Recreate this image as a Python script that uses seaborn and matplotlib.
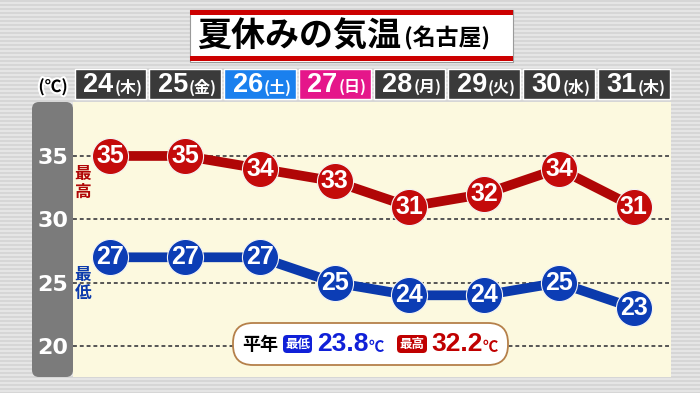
import numpy as np
import pandas as pd
import matplotlib
matplotlib.use("Agg")
import matplotlib.pyplot as plt
from matplotlib.patches import FancyBboxPatch, Rectangle
import matplotlib.patheffects as pe
import seaborn as sns

# ---- data ----
days = ["24", "25", "26", "27", "28", "29", "30", "31"]
weekdays = ["(木)", "(金)", "(土)", "(日)", "(月)", "(火)", "(水)", "(木)"]
high = [35, 35, 34, 33, 31, 32, 34, 31]
low = [27, 27, 27, 25, 24, 24, 25, 23]
yticks = [20, 25, 30, 35]
normal_low = "23.8"
normal_high = "32.2"
title_main = "夏休みの気温"
title_sub = "(名古屋)"

sns.set_theme(style="white")
JP = ["Noto Sans CJK JP", "DejaVu Sans"]
NUM = ["Liberation Sans", "DejaVu Sans"]
WIDE = ["DejaVu Sans"]
plt.rcParams["font.family"] = JP

W, H = 700, 393
fig = plt.figure(figsize=(7, 3.93), dpi=100)

# striped background
stripes = np.ones((H, W, 3))
rows = np.arange(H)
stripes[:] = np.where((rows % 4 < 2)[:, None, None], 0.84, 0.90)
fig.figimage(stripes, xo=0, yo=0, zorder=-2)

T = fig.dpi_scale_trans  # inches; 1 in = 100 px


def P(px, py):
    """pixel (from top-left) -> inches"""
    return px / 100.0, (H - py) / 100.0


# axes
L, R, TOP, BOT = 73, 671, 102, 377
ax = fig.add_axes([L / W, (H - BOT) / H, (R - L) / W, (BOT - TOP) / H])
ax.set_facecolor("#fcf9df")
for s in ax.spines.values():
    s.set_visible(False)

# gray y-axis panel
x0, y0 = P(32, BOT)
x1, y1 = P(73, TOP)
fig.add_artist(FancyBboxPatch((x0, y0), x1 - x0, y1 - y0,
                              boxstyle="round,pad=0,rounding_size=0.07",
                              transform=T, facecolor="#7b7b7b", edgecolor="none",
                              zorder=-1))

df = pd.DataFrame({"day": np.arange(len(days)), "high": high, "low": low})

for col, lc, mc in [("high", "#b00606", "#c40b0b"), ("low", "#0b3aac", "#0c3db5")]:
    sns.lineplot(data=df, x="day", y=col, ax=ax, color=lc, linewidth=7,
                 marker="o", markersize=26, markerfacecolor=mc,
                 markeredgecolor="#f4f4f4", markeredgewidth=0.8, zorder=3)
    for i, v in enumerate(df[col]):
        ax.text(i, v, str(v), ha="center", va="center", color="white",
                fontsize=18, fontweight="bold", family=NUM, zorder=4)

ax.set_xlim(-0.5, len(days) - 0.5)
ax.set_ylim(17.55, 39.26)
ax.set_yticks(yticks)
ax.set_yticklabels([str(t) for t in yticks], fontweight="bold", family=WIDE)
ax.tick_params(axis="y", length=0, pad=3.5, labelcolor="white", labelsize=16)
ax.set_xticks([])
ax.set_xlabel("")
ax.set_ylabel("")
ax.grid(axis="y", color="#555555", linestyle=(0, (2, 1.5)), linewidth=1.4)
ax.set_axisbelow(True)

# header boxes
colw = (R - L) / len(days)
hcolors = ["#3a3a3a", "#3a3a3a", "#1a80ee", "#e5168a", "#3a3a3a", "#3a3a3a", "#3a3a3a", "#3a3a3a"]
for i, (d, wd) in enumerate(zip(days, weekdays)):
    bx0 = L + i * colw + 1.5
    bx1 = L + (i + 1) * colw - 1.5
    a, b = P(bx0, 99)
    c, e = P(bx1, 69)
    fig.add_artist(Rectangle((a, b), c - a, e - b, transform=T,
                             facecolor=hcolors[i], edgecolor="white", linewidth=1.0, zorder=2))
    cx = L + (i + 0.5) * colw
    tx, ty = P(cx + 3, 85)
    fig.text(tx, ty, d, transform=T, ha="right", va="center", color="white",
             fontsize=19.5, fontweight="bold", family=NUM, zorder=3)
    tx, ty = P(cx + 4, 87)
    fig.text(tx, ty, wd, transform=T, ha="left", va="center", color="white",
             fontsize=11.5, fontweight="bold", family=JP, zorder=3)

# (℃) label
tx, ty = P(53, 87)
fig.text(tx, ty, "(℃)", transform=T, ha="center", va="center", color="black",
         fontsize=12, fontweight="bold", family=JP, zorder=3,
         path_effects=[pe.withStroke(linewidth=3, foreground="white")])

# series labels
tx, ty = P(83, 183)
fig.text(tx, ty, "最\n高", transform=T, ha="center", va="center", color="#b00606",
         fontsize=12, fontweight="bold", family=JP, linespacing=0.95, zorder=3)
tx, ty = P(83, 284)
fig.text(tx, ty, "最\n低", transform=T, ha="center", va="center", color="#0b3aac",
         fontsize=12, fontweight="bold", family=JP, linespacing=0.95, zorder=3)

# title box
a, b = P(190, 62)
c, e = P(513, 10)
fig.add_artist(Rectangle((a, b), c - a, e - b, transform=T, facecolor="white",
                         edgecolor="#9a9a9a", linewidth=0.8, zorder=2))
for yy in (10, 56):
    a, b = P(190, yy + 5)
    c, e = P(513, yy)
    fig.add_artist(Rectangle((a, b), c - a, e - b, transform=T, facecolor="#cc0000",
                             edgecolor="none", zorder=2.5))
tx, ty = P(401, 36)
fig.text(tx, ty, title_main, transform=T, ha="right", va="center", color="black",
         fontsize=24.5, fontweight="bold", family=JP, zorder=3)
tx, ty = P(404, 38)
fig.text(tx, ty, title_sub, transform=T, ha="left", va="center", color="black",
         fontsize=16.5, fontweight="bold", family=JP, zorder=3)

# normal-values box
a, b = P(233, 365)
c, e = P(508, 323)
fig.add_artist(FancyBboxPatch((a, b), c - a, e - b, transform=T,
                              boxstyle="round,pad=0,rounding_size=0.2",
                              facecolor="white", edgecolor="#b5804a", linewidth=1.3, zorder=2))
tx, ty = P(260, 345)
fig.text(tx, ty, "平年", transform=T, ha="center", va="center", color="black",
         fontsize=13, fontweight="bold", family=JP, zorder=3)
for (bx0, bx1, col, lab, val, vx) in [(283, 312, "#1020d8", "最低", normal_low, 317),
                                       (397, 427, "#c00000", "最高", normal_high, 431)]:
    a, b = P(bx0, 353)
    c, e = P(bx1, 335)
    fig.add_artist(FancyBboxPatch((a, b), c - a, e - b, transform=T,
                                  boxstyle="round,pad=0,rounding_size=0.04",
                                  facecolor=col, edgecolor="none", zorder=3))
    tx, ty = P((bx0 + bx1) / 2, 344)
    fig.text(tx, ty, lab, transform=T, ha="center", va="center", color="white",
             fontsize=9, fontweight="bold", family=JP, zorder=4)
    tx, ty = P(vx, 344)
    fig.text(tx, ty, val, transform=T, ha="left", va="center", color=col,
             fontsize=19, fontweight="bold", family=NUM, zorder=4)
    tx, ty = P(vx + 52, 347)
    fig.text(tx, ty, "℃", transform=T, ha="left", va="center", color=col,
             fontsize=11, fontweight="bold", family=JP, zorder=4)

fig.savefig("out.png", dpi=100)
